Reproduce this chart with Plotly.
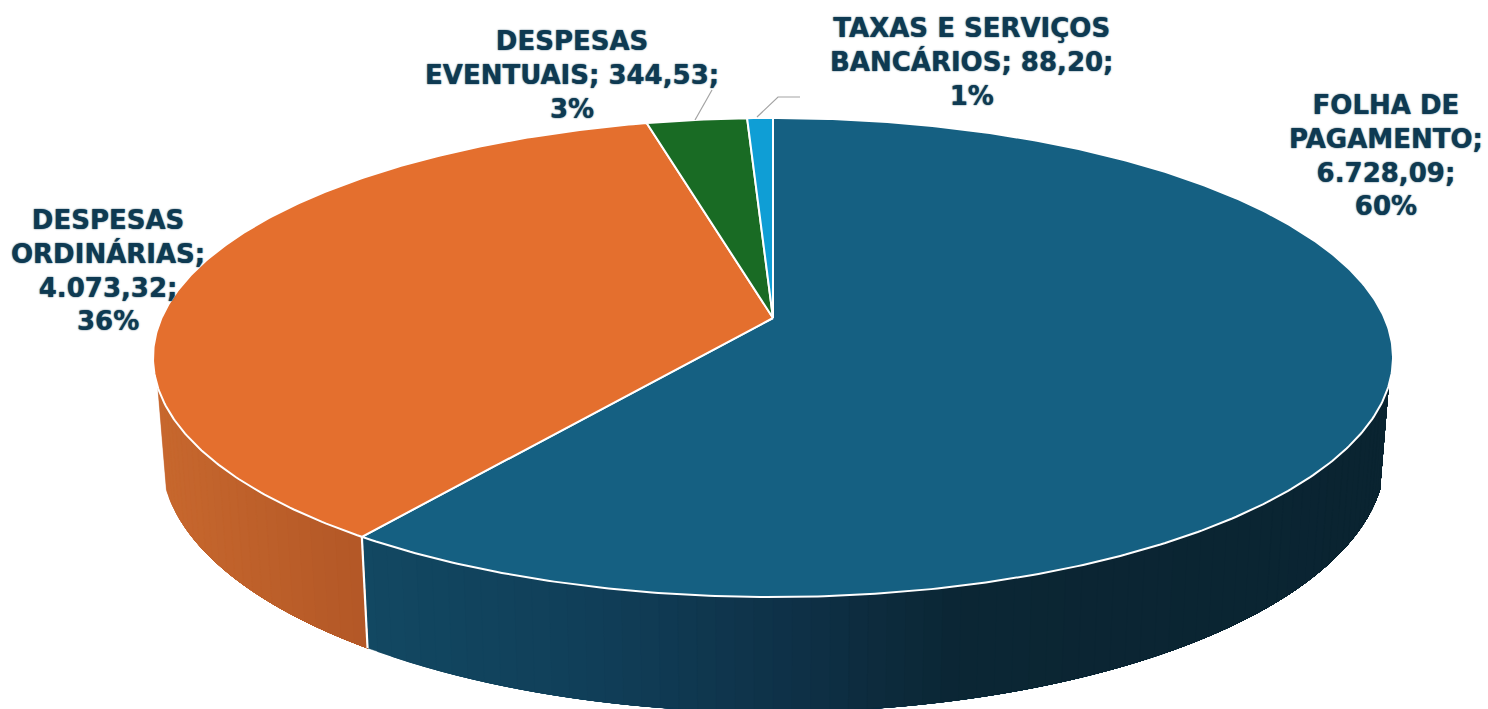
import numpy as np
import plotly.graph_objects as go

# ---- data ----
categories = ["FOLHA DE PAGAMENTO", "DESPESAS ORDINÁRIAS", "DESPESAS EVENTUAIS", "TAXAS E SERVIÇOS BANCÁRIOS"]
values = [6728.09, 4073.32, 344.53, 88.20]
top_colors = ["#156082", "#E46F2E", "#196B24", "#0F9ED5"]
label_lines = [
    ["FOLHA DE", "PAGAMENTO;", "{v};", "{p}%"],
    ["DESPESAS", "ORDINÁRIAS;", "{v};", "{p}%"],
    ["DESPESAS", "EVENTUAIS; {v};", "{p}%"],
    ["TAXAS E SERVIÇOS", "BANCÁRIOS; {v};", "{p}%"],
]
label_xy = [(1386, 155), (108, 270), (572, 75), (972, 62)]

# ---- pie projection (page pixels) ----
CX, CY = 773, 318
PERSP = 0.165
TOP = dict(bx=611.5, ay=233.0, y0=CY)
BOTTOM = dict(bx=603.0, ay=247.0, y0=416.0)


def project(theta_deg, plane):
    t = np.radians(np.asarray(theta_deg, dtype=float))
    s, c = np.sin(t), np.cos(t)
    w = 1 + PERSP * c
    return CX + plane["bx"] * s / w, plane["y0"] - plane["ay"] * c / w


def lerp_color(stops, x):
    xs = [p[0] for p in stops]
    rgb = [np.interp(x, xs, [p[1][i] for p in stops]) for i in range(3)]
    return "rgb(%d,%d,%d)" % tuple(int(round(v)) for v in rgb)


def fmt(v):
    return f"{v:,.2f}".replace(",", "X").replace(".", ",").replace("X", ".")


wall_shades = {
    0: [(362, (18, 72, 98)), (600, (16, 62, 88)), (800, (14, 48, 70)), (960, (11, 38, 52)), (1400, (10, 36, 49))],
    1: [(150, (200, 104, 46)), (370, (178, 87, 38))],
}

total = sum(values)
cum = np.concatenate([[0], np.cumsum(values)]) / total * 360
WALL_START, WALL_END = 106.5, 253.5

fig = go.Figure()

# side wall: overlapping layers, each shaded by its position, so no seams show
for i, shades in wall_shades.items():
    a0 = max(cum[i], WALL_START)
    a1 = min(cum[i + 1], WALL_END)
    edges = np.arange(a0, a1, 1.5).tolist() + [a1]
    # paint from the far end towards the start of the section
    for e0, e1 in reversed(list(zip(edges[:-1], edges[1:]))):
        span = np.linspace(a0, e1, max(int((e1 - a0) * 2), 2))
        xt, yt = project(span, TOP)
        xb, yb = project(span[::-1], BOTTOM)
        xm = float(project((e0 + e1) / 2, TOP)[0])
        col = lerp_color(shades, xm)
        fig.add_trace(go.Scatter(
            x=xt.tolist() + xb.tolist() + [xt[0]], y=yt.tolist() + yb.tolist() + [yt[0]],
            mode="lines", fill="toself", fillcolor=col,
            line=dict(color=col, width=0.5), hoverinfo="skip", showlegend=False))

# white divider between the two visible wall sections
xa, ya = project(cum[1], TOP)
xb, yb = project(cum[1], BOTTOM)
fig.add_trace(go.Scatter(x=[float(xa), float(xb)], y=[float(ya), float(yb)], mode="lines",
                         line=dict(color="white", width=2.2), hoverinfo="skip", showlegend=False))

# top face wedges
for i, name in enumerate(categories):
    arc = np.linspace(cum[i], cum[i + 1], max(int((cum[i + 1] - cum[i]) * 2), 4))
    x, y = project(arc, TOP)
    fig.add_trace(go.Scatter(
        x=[CX] + x.tolist() + [CX], y=[CY] + y.tolist() + [CY],
        mode="lines", fill="toself", fillcolor=top_colors[i],
        line=dict(color="white", width=2), name=name,
        text=f"{name}: {fmt(values[i])}", hoverinfo="text", showlegend=False))

# leader lines
leaders = [
    ([695, 712], [120, 90]),
    ([757, 778, 800], [117, 97, 97]),
]
for lx, ly in leaders:
    fig.add_trace(go.Scatter(x=lx, y=ly, mode="lines", line=dict(color="#A3A3A3", width=1.2),
                             hoverinfo="skip", showlegend=False))

# data labels
for i, lines in enumerate(label_lines):
    pct = round(values[i] / total * 100)
    txt = "<br>".join(l.format(v=fmt(values[i]), p=pct) for l in lines)
    fig.add_annotation(x=label_xy[i][0], y=label_xy[i][1], xref="x", yref="y", text=txt,
                       showarrow=False, align="center", xanchor="center", yanchor="middle",
                       font=dict(family="DejaVu Sans", size=26, color="#0E3A52", weight=700,
                                 shadow="0 0 1.5px #0E3A52"))

fig.update_layout(
    width=1488, height=709, margin=dict(l=0, r=0, t=0, b=0),
    paper_bgcolor="white", plot_bgcolor="white", showlegend=False,
    xaxis=dict(range=[0, 1488], visible=False, fixedrange=True),
    yaxis=dict(range=[709, 0], visible=False, fixedrange=True),
)
fig.write_html("out.html", config=dict(displayModeBar=False),
               post_script="document.body.style.margin='0';")
